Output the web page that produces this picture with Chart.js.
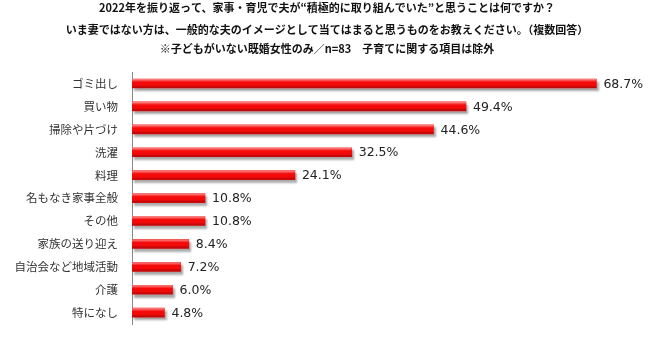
<!DOCTYPE html>
<html lang="ja">
<head>
<meta charset="utf-8">
<script src="https://cdn.jsdelivr.net/npm/chart.js@4/dist/chart.umd.min.js"></script>
<style>
  html, body { margin: 0; padding: 0; background: #fff; }
  #wrap { width: 654px; height: 345px; position: relative; }
</style>
</head>
<body>
<div id="wrap"><canvas id="husbandChart"></canvas></div>
<script>
// ---------------- DATA ----------------
const titleLines = [
  "2022年を振り返って、家事・育児で夫が“積極的に取り組んでいた”と思うことは何ですか？",
  "いま妻ではない方は、一般的な夫のイメージとして当てはまると思うものをお教えください。（複数回答）",
  "※子どもがいない既婚女性のみ／n=83　子育てに関する項目は除外"
];
const categories = [
  "ゴミ出し", "買い物", "掃除や片づけ", "洗濯", "料理", "名もなき家事全般",
  "その他", "家族の送り迎え", "自治会など地域活動", "介護", "特になし"
];
const percentValues = [68.7, 49.4, 44.6, 32.5, 24.1, 10.8, 10.8, 8.4, 7.2, 6.0, 4.8];

// title lines drawn by hand so the uneven spacing matches
const titlePlugin = {
  id: "titleLines",
  afterDraw(chart) {
    const ctx = chart.ctx;
    const ys = [8, 30, 49];
    ctx.save();
    ctx.font = "bold 11px 'Noto Sans CJK JP'";
    ctx.fillStyle = "#111";
    ctx.textAlign = "center";
    ctx.textBaseline = "middle";
    titleLines.forEach((t, i) => ctx.fillText(t, 327, ys[i]));
    ctx.restore();
  }
};

// drop shadow under bars
const shadowPlugin = {
  id: "barShadow",
  beforeDatasetsDraw(chart) {
    const ctx = chart.ctx;
    ctx.save();
    ctx.shadowColor = "rgba(0,0,0,0.35)";
    ctx.shadowOffsetX = 2;
    ctx.shadowOffsetY = 3;
    ctx.shadowBlur = 2;
  },
  afterDatasetsDraw(chart) {
    chart.ctx.restore();
    const ctx = chart.ctx;
    const meta = chart.getDatasetMeta(0);
    ctx.save();
    meta.data.forEach((bar, i) => {
      const top = bar.y - bar.height / 2;
      const left = bar.base;
      const w = bar.x - bar.base;
      // glossy look
      const g = ctx.createLinearGradient(0, top, 0, top + bar.height);
      g.addColorStop(0, "rgba(255,255,255,0.55)");
      g.addColorStop(0.35, "rgba(255,255,255,0)");
      g.addColorStop(0.65, "rgba(0,0,0,0)");
      g.addColorStop(1, "rgba(0,0,0,0.28)");
      ctx.fillStyle = g;
      ctx.fillRect(left, top, w, bar.height);
      // value label
      ctx.font = "12.5px 'DejaVu Sans'";
      ctx.fillStyle = "#222";
      ctx.textAlign = "left";
      ctx.textBaseline = "middle";
      ctx.fillText(percentValues[i].toFixed(1) + "%", bar.x + 7, bar.y + 1);
    });
    ctx.restore();
  }
};

const ctx = document.getElementById("husbandChart").getContext("2d");
new Chart(ctx, {
  type: "bar",
  data: {
    labels: categories,
    datasets: [{
      data: percentValues,
      backgroundColor: "#f50a0a",
      borderWidth: 0,
      barThickness: 9
    }]
  },
  options: {
    indexAxis: "y",
    responsive: true,
    maintainAspectRatio: false,
    animation: false,
    layout: { padding: { top: 72, bottom: 7, left: 0, right: 15 } },
    plugins: {
      legend: { display: false },
      tooltip: { enabled: false }
    },
    scales: {
      x: {
        display: false,
        min: 0,
        max: 75
      },
      y: {
        afterFit(scale) { scale.width = 132; },
        grid: { display: false, drawTicks: false },
        border: { display: true, color: "#888", width: 1 },
        ticks: {
          padding: 14,
          color: "#333",
          font: { family: "'Noto Sans CJK JP'", size: 11.5 }
        }
      }
    }
  },
  plugins: [titlePlugin, shadowPlugin]
});
</script>
</body>
</html>
